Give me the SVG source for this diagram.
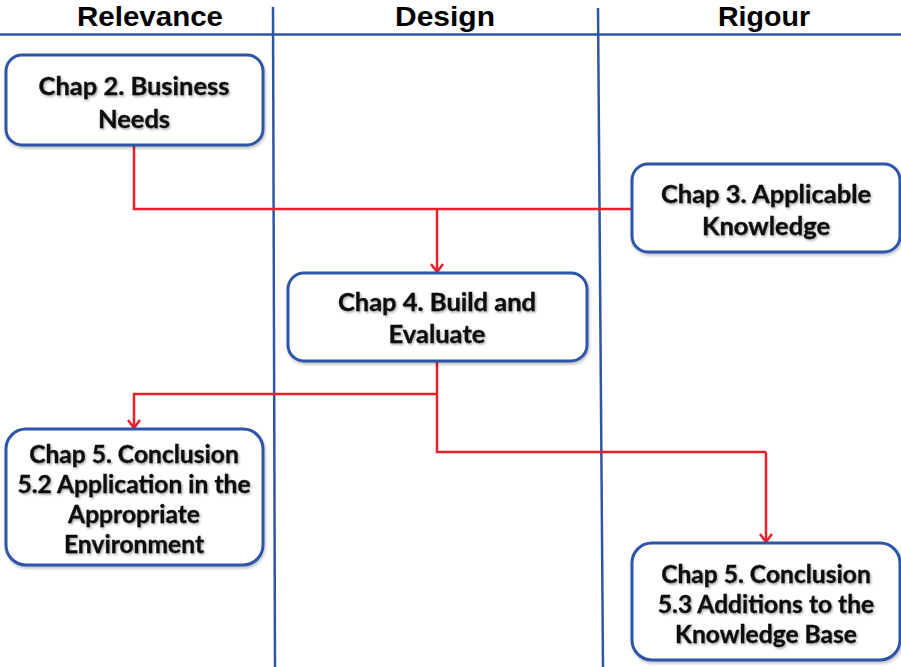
<svg xmlns="http://www.w3.org/2000/svg" width="901" height="667" viewBox="0 0 901 667">
<defs>
<style>
.lane{stroke:#2F55A8;stroke-width:2.5;fill:none}
.box{fill:#fff;stroke:#2E54A6;stroke-width:3;filter:url(#bs)}
.hdr{font-family:"Liberation Sans",Arial,sans-serif;font-weight:bold;font-size:28px;fill:#000;text-anchor:middle}
.t{font-family:Lato,"Open Sans",sans-serif;font-weight:bold;font-size:25.5px;fill:#111;stroke:#111;stroke-width:0.35;text-anchor:middle;filter:url(#ts)}
.t2{font-family:Lato,"Open Sans",sans-serif;font-weight:bold;font-size:24.6px;fill:#111;stroke:#111;stroke-width:0.35;text-anchor:middle;filter:url(#ts)}
.con{stroke:#E8202A;stroke-width:2.5;fill:none}
.arr{stroke:#E8202A;stroke-width:2.5;fill:none;marker-end:url(#ah)}
</style>
<filter id="ts" x="-10%" y="-30%" width="120%" height="160%">
<feDropShadow dx="1.2" dy="1.5" stdDeviation="1.2" flood-color="#000" flood-opacity="0.35"/>
</filter>
<filter id="bs" x="-5%" y="-5%" width="110%" height="115%">
<feDropShadow dx="1" dy="2" stdDeviation="1.5" flood-color="#000" flood-opacity="0.25"/>
</filter>
<marker id="ah" markerUnits="userSpaceOnUse" markerWidth="16" markerHeight="16" refX="12" refY="8" orient="auto" viewBox="0 0 16 16">
<path d="M4,2 L12,8 L4,14" stroke="#E8202A" stroke-width="2.5" fill="none"/>
</marker>
</defs>
<rect width="901" height="667" fill="#fff"/>
<g id="lanes">
<line class="lane" x1="0" y1="34.5" x2="901" y2="34.5"/>
<line class="lane" x1="273" y1="7" x2="275" y2="667"/>
<line class="lane" x1="598" y1="8" x2="603" y2="667"/>
<text class="hdr" x="150" y="26" textLength="146" lengthAdjust="spacingAndGlyphs">Relevance</text>
<text class="hdr" x="445" y="26" textLength="100" lengthAdjust="spacingAndGlyphs">Design</text>
<text class="hdr" x="764" y="26" textLength="92" lengthAdjust="spacingAndGlyphs">Rigour</text>
</g>
<g id="connectors">
<path class="con" d="M134,145 L134,209 L632,209"/>
<path class="arr" d="M437,209 L437,272"/>
<path class="con" d="M437,361 L437,452 L766,452"/>
<path class="arr" d="M766,452 L766,542"/>
<path class="arr" d="M437,394 L134,394 L134,428"/>
</g>
<g id="chap2">
<rect class="box" x="6" y="55" width="257" height="90" rx="16"/>
<text class="t" x="134" y="95">Chap 2. Business</text>
<text class="t" x="134" y="128">Needs</text>
</g>
<g id="chap3">
<rect class="box" x="632" y="164" width="268" height="88" rx="16"/>
<text class="t" x="766" y="203">Chap 3. Applicable</text>
<text class="t" x="766" y="235">Knowledge</text>
</g>
<g id="chap4">
<rect class="box" x="288" y="273" width="299" height="88" rx="16"/>
<text class="t" x="437" y="311">Chap 4. Build and</text>
<text class="t" x="437" y="343">Evaluate</text>
</g>
<g id="chap5a">
<rect class="box" x="6" y="429" width="257" height="136" rx="20"/>
<text class="t2" x="134" y="463">Chap 5. Conclusion</text>
<text class="t2" x="134" y="493">5.2 Application in the</text>
<text class="t2" x="134" y="523">Appropriate</text>
<text class="t2" x="134" y="553">Environment</text>
</g>
<g id="chap5b">
<rect class="box" x="632" y="543" width="268" height="117" rx="20"/>
<text class="t2" x="766" y="583">Chap 5. Conclusion</text>
<text class="t2" x="766" y="613">5.3 Additions to the</text>
<text class="t2" x="766" y="643">Knowledge Base</text>
</g>
</svg>
